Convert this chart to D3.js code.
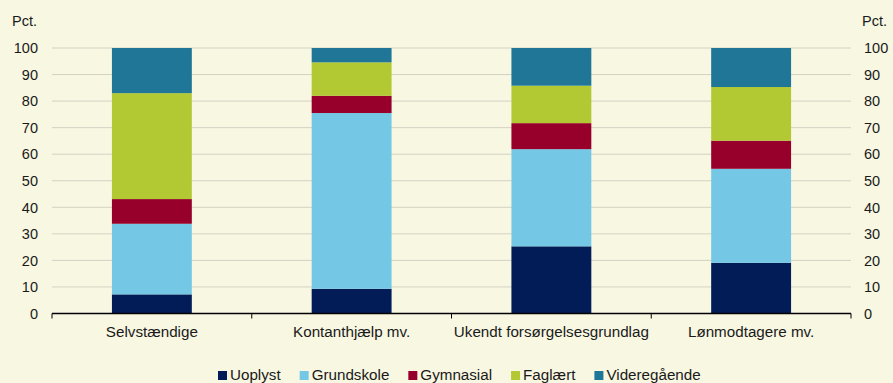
<!DOCTYPE html>
<html>
<head>
<meta charset="utf-8">
<script src="https://cdn.jsdelivr.net/npm/d3@7"></script>
<style>
  html, body { margin: 0; padding: 0; background: #f8f7e2; }
  svg { display: block; font-family: "Liberation Sans", Arial, sans-serif; }
</style>
</head>
<body>
<svg id="chart" width="893" height="383"></svg>
<script>
// Education distribution (percent) by source of income
const categories = ["Selvstændige", "Kontanthjælp mv.", "Ukendt forsørgelsesgrundlag", "Lønmodtagere mv."];
const seriesNames = ["Uoplyst", "Grundskole", "Gymnasial", "Faglært", "Videregående"];
const uoplyst      = [7.2, 9.3, 25.3, 19.1];
const grundskole   = [26.6, 66.2, 36.6, 35.4];
const gymnasial    = [9.3, 6.5, 9.8, 10.6];
const faglaert     = [39.9, 12.6, 14.1, 20.2];
const videregaaende = [17.0, 5.4, 14.2, 14.7];
const yTicks = [0, 10, 20, 30, 40, 50, 60, 70, 80, 90, 100];
const unitLabel = "Pct.";

const colors = ["#021c58", "#74c8e6", "#96002b", "#b2c934", "#1f7697"];

const rows = categories.map((c, i) => ({
  cat: c,
  "Uoplyst": uoplyst[i],
  "Grundskole": grundskole[i],
  "Gymnasial": gymnasial[i],
  "Faglært": faglaert[i],
  "Videregående": videregaaende[i]
}));

const svg = d3.select("#chart");
const plotLeft = 52, plotRight = 851, plotTop = 48, plotBottom = 313.5;
const textColor = "#1a1a1a";

const x = d3.scaleBand().domain(categories).range([plotLeft, plotRight]).paddingInner(0.6).paddingOuter(0.3);
const y = d3.scaleLinear().domain([0, 100]).range([plotBottom, plotTop]);
const color = d3.scaleOrdinal().domain(seriesNames).range(colors);

// gridlines
svg.append("g").selectAll("line").data(yTicks.filter(d => d > 0)).join("line")
  .attr("x1", plotLeft).attr("x2", plotRight)
  .attr("y1", d => y(d)).attr("y2", d => y(d))
  .attr("stroke", "#d3d2c3").attr("stroke-width", 1);

// stacked bars
const stacked = d3.stack().keys(seriesNames)(rows);
svg.append("g").selectAll("g").data(stacked).join("g")
  .attr("fill", d => color(d.key))
  .selectAll("rect").data(d => d).join("rect")
  .attr("x", d => x(d.data.cat))
  .attr("width", x.bandwidth())
  .attr("y", d => y(d[1]))
  .attr("height", d => y(d[0]) - y(d[1]));

// left and right value axes (labels only)
const tickSize = 14.5;
const labelSize = 15.2;
svg.append("g").selectAll("text").data(yTicks).join("text")
  .attr("x", 38).attr("y", d => y(d)).attr("dy", "0.36em")
  .attr("text-anchor", "end").attr("font-size", tickSize).attr("fill", textColor)
  .text(d => d);
svg.append("g").selectAll("text").data(yTicks).join("text")
  .attr("x", 864).attr("y", d => y(d)).attr("dy", "0.36em")
  .attr("text-anchor", "start").attr("font-size", tickSize).attr("fill", textColor)
  .text(d => d);

svg.append("text").attr("x", 12).attr("y", 26).attr("font-size", tickSize).attr("fill", textColor).text(unitLabel);
svg.append("text").attr("x", 862).attr("y", 26).attr("font-size", tickSize).attr("fill", textColor).text(unitLabel);

// category axis
const xAxis = svg.append("g");
xAxis.append("line").attr("x1", plotLeft).attr("x2", plotRight).attr("y1", plotBottom).attr("y2", plotBottom)
  .attr("stroke", "#000").attr("stroke-width", 1.3);
const step = x.step();
const boundaries = d3.range(categories.length + 1).map(i => plotLeft + i * step);
xAxis.selectAll("line.tick").data(boundaries).join("line").attr("class", "tick")
  .attr("x1", d => d).attr("x2", d => d).attr("y1", plotBottom).attr("y2", plotBottom + 5)
  .attr("stroke", "#000").attr("stroke-width", 1);
xAxis.selectAll("text").data(categories).join("text")
  .attr("x", d => x(d) + x.bandwidth() / 2).attr("y", 336.5)
  .attr("text-anchor", "middle").attr("font-size", labelSize).attr("fill", textColor)
  .text(d => d);

// legend
const legend = svg.append("g");
const items = legend.selectAll("g").data(seriesNames).join("g");
items.append("rect").attr("width", 9).attr("height", 9).attr("y", 371).attr("fill", d => color(d));
items.append("text").attr("x", 12).attr("y", 380).attr("font-size", labelSize).attr("fill", textColor).text(d => d);
let cx = 218;
items.each(function() {
  const w = d3.select(this).select("text").node().getComputedTextLength();
  d3.select(this).attr("transform", `translate(${cx},0)`);
  cx += 12 + w + 19;
});
</script>
</body>
</html>
